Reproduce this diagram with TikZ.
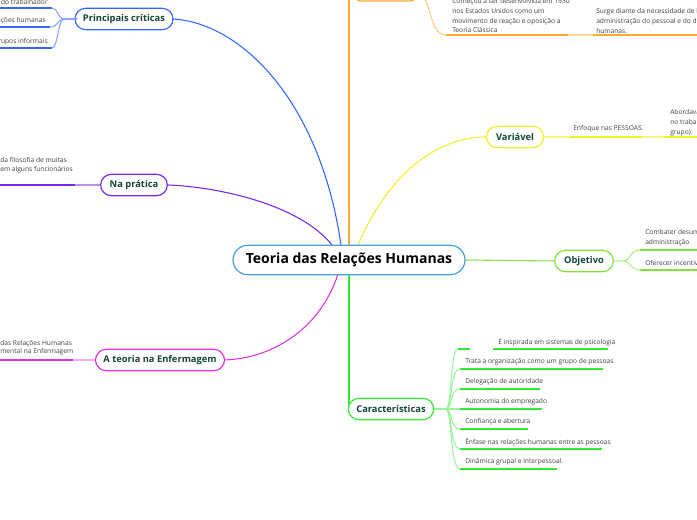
\documentclass[tikz,border=0pt]{standalone}
\usepackage{fontspec}
\setmainfont{Open Sans}
\begin{document}
\begin{tikzpicture}[x=0.75pt,y=-0.75pt,
  lbl/.style={font=\fontsize{5}{6.5}\selectfont, text=black!75, inner sep=0pt},
  br/.style={draw=#1, line width=0.9pt, rounded corners=8pt, fill=white, font=\fontsize{7}{8}\selectfont\bfseries, text={rgb,255:red,20;green,70;blue,55}, minimum height=16pt, inner xsep=6pt},
  ul/.style={draw=#1, line width=1.2pt},
  cn/.style={draw=#1, line width=0.8pt}]
\definecolor{cblue}{RGB}{51,102,255}
\definecolor{cpurp}{RGB}{120,40,240}
\definecolor{cmag}{RGB}{225,50,225}
\definecolor{corg}{RGB}{255,170,50}
\definecolor{cyel}{RGB}{240,240,40}
\definecolor{clg}{RGB}{130,225,60}
\definecolor{cgr}{RGB}{50,235,50}
\definecolor{croot}{RGB}{70,160,220}
\useasboundingbox (0,0) rectangle (697,520);
\clip (0,0) rectangle (697,520);

% connectors from root
\draw[cn=corg] (349,0) -- (349,245);
\draw[cn=cblue] (341,245) .. controls (320,100) and (240,22) .. (172,19);
\draw[cn=cpurp] (332,245) .. controls (300,205) and (220,187) .. (168,185);
\draw[cn=cmag] (338,274) .. controls (320,330) and (270,360) .. (221,360);
\draw[cn=cyel] (358,245) .. controls (390,170) and (440,137) .. (486,137);
\draw[cn=clg] (465,260) -- (555,261);
\draw[cn=cgr] (349,274) -- (349,409);

\node[draw=croot, line width=0.9pt, rounded corners=11pt, fill=white, minimum width=174pt, minimum height=22pt, inner xsep=0pt, font=\fontsize{10.5}{12}\selectfont\bfseries] (root) at (349,260) {Teoria das Relações Humanas};

% Principais criticas
\node[br=cblue, minimum width=71pt] (pc) at (124,19) {Principais críticas};
\foreach \y/\t/\e in {2/a do trabalhador/52,21/lações humanas/50,42/grupos informais/52}{
  \node[lbl, anchor=east] at (\e-4,\y) {\t};
  \draw[ul=cblue] (0,\y+6) -- (\e,\y+6);
  \draw[cn=cblue!60] (77,19) -- (64,19) .. controls (58,19) and (58,\y+6) .. (\e,\y+6);
}

% Na pratica
\node[br=cpurp, minimum width=50pt] (np) at (134,185) {Na prática};
\node[lbl, anchor=north west, align=left] at (0,157) {da filosofia de muitas\\em alguns funcionários};
\draw[ul=cpurp] (0,185) -- (75,185);
\draw[cn=cpurp!50] (75,185) -- (np.west);

% Enfermagem
\node[br=cmag, minimum width=92pt] (en) at (160,360) {A teoria na Enfermagem};
\node[lbl, anchor=north west, align=left] at (0,340) {das Relações Humanas\\mental na Enfermagem};
\draw[ul=cmag] (0,360) -- (73,360);
\draw[cn=cmag!40] (73,360) -- (en.west);

% Orange top
\draw[corg, line width=0.9pt, rounded corners=6pt] (353,-20) rectangle (418,1);
\node[lbl, anchor=north west, align=left, font=\fontsize{5}{7.4}\selectfont] (o1) at (452,-2) {Começou a ser desenvolvida em 1930\\nos Estados Unidos como um\\movimento de reação e oposição a\\Teoria Clássica};
\draw[ul=corg] (446,35) -- (568,35);
\draw[cn=corg!60] (418,-5) .. controls (432,-5) and (428,35) .. (446,35);
\node[lbl, anchor=north west, align=left, font=\fontsize{5}{7.4}\selectfont] (o2) at (596,8) {Surge diante da necessidade de humanizar a\\administração do pessoal e do desenvolvimento\\humanas.};
\draw[cn=corg!50] (568,35) -- (593,35);
\draw[ul=corg] (593,35) -- (697,35);

% Variavel
\node[br=cyel, minimum width=43pt] (va) at (515,137) {Variável};
\node[lbl, anchor=west] at (573,129) {Enfoque nas PESSOAS.};
\draw[cn=cyel!60] (va.east) -- (570,137);
\draw[ul=cyel] (570,137) -- (642,137);
\draw[cn=cyel!60] (642,137) -- (665,137);
\node[lbl, anchor=north west, align=left, font=\fontsize{5}{7.4}\selectfont] at (670,109) {Abordava a\\no trabalho\\grupo).};
\draw[ul=cyel] (665,137) -- (697,137);

% Objetivo
\node[br=clg, minimum width=44pt] (ob) at (584,261) {Objetivo};
\node[lbl, anchor=north west, align=left, font=\fontsize{5}{7.4}\selectfont] at (645,229) {Combater desumanização da\\administração};
\draw[ul=clg] (640,250) -- (697,250);
\node[lbl, anchor=west] at (645,263) {Oferecer incentivos};
\draw[ul=clg] (640,270) -- (697,270);
\draw[cn=clg!60] (ob.east) -- (624,261) .. controls (630,261) and (630,250) .. (640,250);
\draw[cn=clg!60] (624,261) .. controls (630,261) and (630,270) .. (640,270);

% Caracteristicas
\node[br=cgr, minimum width=63pt] (ca) at (391,409) {Características};
\foreach \y/\t/\e in {369/Trata a organização como um grupo de pessoas/603,389/Delegação de autoridade/540,409/Autonomia do empregado/542,429/Confiança e abertura/528,449/Ênfase nas relações humanas entre as pessoas/602,469/Dinâmica grupal e interpessoal./557}{
  \node[lbl, anchor=west] at (465,\y-7) {\t};
  \draw[ul=cgr] (460,\y) -- (\e,\y);
  \draw[cn=cgr!50] (ca.east) -- (446,409) .. controls (452,409) and (450,\y) .. (460,\y);
}
\node[lbl, anchor=west] at (498,342) {É inspirada em sistemas de psicologia};
\draw[ul=cgr] (458,349) -- (470,349);
\draw[ul=cgr] (493,349) -- (608,349);
\draw[cn=cgr!50] (446,409) .. controls (452,409) and (450,349) .. (458,349);
\end{tikzpicture}
\end{document}
